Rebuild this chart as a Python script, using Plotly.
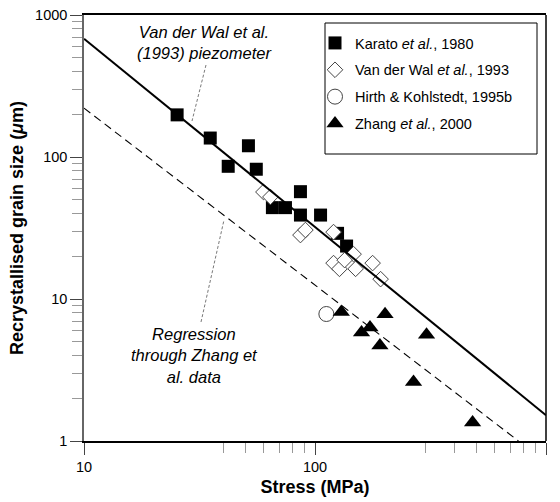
import plotly.graph_objects as go

# ---- data ----
karato_x = [25.3, 35.2, 51.5, 42.1, 55.7, 86.5, 65.4, 74.5, 86.5, 105.7, 125.2, 137]
karato_y = [198, 136, 120, 86, 82, 57, 44, 44, 39, 39, 29, 23.6]

vdw_x = [59.8, 64.1, 86.5, 90.9, 120.3, 146.9, 120.3, 127.6, 134.3, 149.9, 177.6, 192.3]
vdw_y = [56.7, 52.3, 28.2, 30.6, 29.6, 20.7, 17.9, 16.3, 18.8, 16.3, 17.9, 13.8]

hirth_x = [112]
hirth_y = [7.84]

zhang_x = [130, 201, 173, 159, 191, 304, 267, 481]
zhang_y = [8.1, 7.8, 6.3, 5.8, 4.7, 5.6, 2.6, 1.35]

piezo_x = [10, 1000]
piezo_y = [680, 1.52]

regr_x = [10, 760]
regr_y = [221, 1]

x_tickvals = [10, 100, 1000]
x_ticktext = ["10", "100", "1000"]
y_tickvals = [1, 10, 100, 1000]
y_ticktext = ["1", "10", "100", "1000"]
x_minor = [40, 50, 60, 70, 80, 90, 300, 400, 500, 600, 700, 800, 900]
y_minor = [m * d for d in (1, 10, 100) for m in range(2, 10)]

FONT = "Liberation Sans, Arial, Helvetica, sans-serif"

# plot area in pixels
L, R, T, B = 84, 546, 15, 441
W, H = 560, 502


def px(xp):
    return (xp - L) / (R - L)


def py(yp):
    return (B - yp) / (B - T)


fig = go.Figure()

fig.add_trace(go.Scatter(
    x=karato_x, y=karato_y, mode="markers", name="Karato <i>et al.</i>, 1980",
    legendgroup="a",
    marker=dict(symbol="square", size=13, color="black", line=dict(width=0))))
fig.add_trace(go.Scatter(
    x=vdw_x, y=vdw_y, mode="markers", name="Van der Wal <i>et al.</i>, 1993",
    legendgroup="b",
    marker=dict(symbol="diamond", size=12, color="white", line=dict(width=1, color="#444"))))
fig.add_trace(go.Scatter(
    x=hirth_x, y=hirth_y, mode="markers", name="Hirth &amp; Kohlstedt, 1995b",
    legendgroup="c",
    marker=dict(symbol="circle", size=15, color="white", line=dict(width=1, color="#444"))))
fig.add_trace(go.Scatter(
    x=zhang_x, y=zhang_y, mode="markers", name="Zhang <i>et al.</i>, 2000",
    legendgroup="d",
    marker=dict(symbol="triangle-up", size=15, color="black", line=dict(width=0))))
fig.add_trace(go.Scatter(
    x=piezo_x, y=piezo_y, mode="lines", showlegend=False,
    line=dict(color="black", width=2)))
fig.add_trace(go.Scatter(
    x=regr_x, y=regr_y, mode="lines", showlegend=False,
    line=dict(color="black", width=1.1, dash="8px,5px")))

axis_common = dict(
    showgrid=False, zeroline=False,
    tickfont=dict(family=FONT, size=14.5, color="black"),
    ticks="outside", ticklen=12, tickwidth=1, tickcolor="#444",
)

fig.update_xaxes(
    type="log", range=[1, 3], tickvals=x_tickvals, ticktext=x_ticktext,
    showline=True, linecolor="black", linewidth=1.5, mirror=True,
    minor=dict(tickvals=x_minor, ticks="outside", ticklen=10, tickcolor="#999", tickwidth=1),
    title=dict(text="<b>Stress (MPa)</b>", font=dict(family=FONT, size=18, color="black"), standoff=6),
    **axis_common)
fig.update_yaxes(
    type="log", range=[0, 3], tickvals=y_tickvals, ticktext=y_ticktext,
    showline=True, linecolor="#666", linewidth=1.5,
    minor=dict(tickvals=y_minor, ticks="outside", ticklen=10, tickcolor="#999", tickwidth=1),
    title=dict(text="<b>Recrystallised grain size (<i>μ</i>m)</b>",
               font=dict(family=FONT, size=18, color="black"), standoff=7),
    **axis_common)

shapes = [
    # right frame edge
    dict(type="line", xref="paper", yref="paper", x0=1, x1=1, y0=0, y1=1,
         line=dict(color="black", width=1.5)),
    # legend box
    dict(type="rect", xref="paper", yref="paper", x0=px(325), x1=px(537), y0=py(154), y1=py(23),
         line=dict(color="black", width=1), fillcolor="rgba(0,0,0,0)"),
    # leader lines
    dict(type="line", xref="paper", yref="paper", x0=px(206), y0=py(65), x1=px(192), y1=py(121),
         line=dict(color="#555", width=0.8, dash="3px,2px")),
    dict(type="line", xref="paper", yref="paper", x0=px(201), y0=py(322), x1=px(224), y1=py(220),
         line=dict(color="#555", width=0.8, dash="3px,2px")),
]

ann_font = dict(family=FONT, size=16.5, color="black")
annotations = [
    dict(text="<i>Van der Wal et al.<br>(1993) piezometer</i>", x=px(204), y=py(42),
         xref="paper", yref="paper", showarrow=False, xanchor="center", yanchor="middle",
         font=ann_font),
    dict(text="<i>Regression<br>through Zhang et<br>al. data</i>", x=px(194), y=py(355),
         xref="paper", yref="paper", showarrow=False, xanchor="center", yanchor="middle",
         font=ann_font),
]

fig.update_layout(
    width=W, height=H,
    margin=dict(l=L, r=W - R, t=T, b=H - B, autoexpand=False),
    paper_bgcolor="white", plot_bgcolor="white",
    font=dict(family=FONT, color="black"),
    showlegend=True,
    legend=dict(x=px(315), y=py(27), xanchor="left", yanchor="top",
                bgcolor="rgba(0,0,0,0)", borderwidth=0,
                font=dict(family=FONT, size=14.5, color="black"),
                tracegroupgap=5, itemsizing="trace"),
    shapes=shapes, annotations=annotations,
)

fig.write_html("out.html")
